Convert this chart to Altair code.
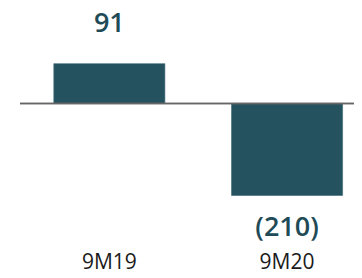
import altair as alt
import pandas as pd

periods = ["9M19", "9M20"]
values = [91, -210]
labels = ["91", "(210)"]

df = pd.DataFrame({"period": periods, "value": values, "label": labels})

bar_color = "#25525f"
label_color = "#1f4b57"

x_enc = alt.X(
    "period:N",
    sort=periods,
    scale=alt.Scale(range=[45.8, 334.6], paddingInner=0.375, paddingOuter=0),
    axis=alt.Axis(
        title=None, domain=False, ticks=False, tickSize=0, grid=False,
        labelAngle=0, labelPadding=-2, labelBaseline="alphabetic",
        labelFont="Open Sans", labelFontSize=21, labelColor="#1a1a1a",
    ),
)
y_scale = alt.Scale(domain=[-380.1, 218], nice=False, zero=False)
y_enc = alt.Y("value:Q", scale=y_scale, axis=None)

base = alt.Chart(df)

bars = base.mark_bar(color=bar_color, stroke="#3d6873", strokeWidth=0.6).encode(
    x=x_enc, y=y_enc, y2=alt.datum(0)
)

baseline = base.mark_rule(color="#666666", strokeWidth=1.3).encode(
    y=alt.Y(datum=0, scale=y_scale, axis=None),
    x=alt.value(12),
    x2=alt.value(346),
)

text_style = dict(font="Open Sans", fontSize=27, fontWeight=600, color=label_color,
                  align="center", baseline="alphabetic")

pos_labels = base.transform_filter("datum.value >= 0").mark_text(dy=-32, **text_style).encode(
    x=x_enc, y=y_enc, text="label:N"
)
neg_labels = base.transform_filter("datum.value < 0").mark_text(dy=41, **text_style).encode(
    x=x_enc, y=y_enc, text="label:N"
)

chart = (
    alt.layer(bars, baseline, pos_labels, neg_labels)
    .properties(width=346, height=262, autosize=alt.AutoSizeParams(type="none"), padding=0)
    .configure_view(stroke=None)
)

chart.save("out.html", embed_options={"renderer": "svg", "actions": False})
